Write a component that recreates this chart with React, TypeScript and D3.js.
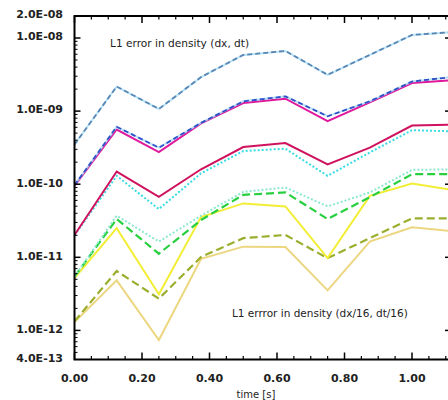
import React from 'react';
import * as d3 from 'd3';

const times = [0, 0.125, 0.25, 0.375, 0.5, 0.625, 0.75, 0.875, 1.0, 1.125];

const seriesA = [3.5e-10, 2.17e-9, 1.07e-9, 2.92e-9, 5.87e-9, 6.66e-9, 3.14e-9, 5.87e-9, 1.1e-8, 1.21e-8];
const seriesB = [9.7e-11, 6.1e-10, 3.16e-10, 6.91e-10, 1.36e-9, 1.59e-9, 8.5e-10, 1.36e-9, 2.54e-9, 2.95e-9];
const seriesC = [9.5e-11, 5.6e-10, 2.75e-10, 6.8e-10, 1.29e-9, 1.48e-9, 7.27e-10, 1.32e-9, 2.42e-9, 2.66e-9];
const seriesD = [2.02e-11, 1.49e-10, 6.72e-11, 1.6e-10, 3.22e-10, 3.65e-10, 1.87e-10, 3.16e-10, 6.35e-10, 6.51e-10];
const seriesE = [2.0e-11, 1.3e-10, 4.57e-11, 1.41e-10, 2.84e-10, 3.06e-10, 1.3e-10, 2.72e-10, 5.48e-10, 5.28e-10];
const seriesF = [5.43e-12, 3.71e-11, 1.64e-11, 3.71e-11, 7.86e-11, 9.02e-11, 4.97e-11, 7.71e-11, 1.57e-10, 1.6e-10];
const seriesG = [5.43e-12, 3.34e-11, 1.12e-11, 3.24e-11, 7.15e-11, 7.71e-11, 3.34e-11, 6.65e-11, 1.37e-10, 1.37e-10];
const seriesH = [5.2e-12, 2.5e-11, 3.12e-12, 3.56e-11, 5.46e-11, 4.97e-11, 9.75e-12, 6.93e-11, 1.02e-10, 8.28e-11];
const seriesI = [1.33e-12, 6.49e-12, 2.72e-12, 1.01e-11, 1.83e-11, 2.02e-11, 9.75e-12, 1.83e-11, 3.41e-11, 3.41e-11];
const seriesJ = [1.3e-12, 4.83e-12, 7.38e-13, 9.55e-12, 1.4e-11, 1.38e-11, 3.53e-12, 1.64e-11, 2.58e-11, 2.27e-11];

const xTickValues = [0, 0.2, 0.4, 0.6, 0.8, 1.0];
const xTickLabels = ['0.00', '0.20', '0.40', '0.60', '0.80', '1.00'];
const yTickValues = [2e-8, 1e-8, 1e-9, 1e-10, 1e-11, 1e-12, 4e-13];
const yTickLabels = ['2.0E-08', '1.0E-08', '1.0E-09', '1.0E-10', '1.0E-11', '1.0E-12', '4.0E-13'];

const titleTop = 'L1 error in density (dx, dt)';
const titleBottom = 'L1 errror in density (dx/16, dt/16)';
const xTitle = 'time [s]';

type Layer = { color: string; width: number; dash?: string; opacity?: number };
type Series = { values: number[]; layers: Layer[] };

const series: Series[] = [
  { values: seriesJ, layers: [{ color: '#ecd680', width: 2 }] },
  { values: seriesI, layers: [{ color: '#9cae2e', width: 2.2, dash: '8,4' }] },
  { values: seriesH, layers: [{ color: '#f2ee36', width: 2 }] },
  { values: seriesG, layers: [{ color: '#28d040', width: 2.2, dash: '8,4' }] },
  { values: seriesF, layers: [{ color: '#8ce8d0', width: 2, dash: '2,2' }] },
  { values: seriesE, layers: [{ color: '#38dce4', width: 2, dash: '2,2' }] },
  { values: seriesD, layers: [{ color: '#d0125e', width: 2 }] },
  { values: seriesC, layers: [{ color: '#e0189c', width: 2 }] },
  { values: seriesB, layers: [{ color: '#a8dcf4', width: 2, opacity: 0.8 }, { color: '#3050c8', width: 1.8, dash: '5,3' }] },
  { values: seriesA, layers: [{ color: '#a8dcf4', width: 2, opacity: 0.8 }, { color: '#5a86b4', width: 1.8, dash: '5,3' }] },
];

export default function App() {
  const W = 448, H = 400;
  const left = 74.5, right = 451, top = 16, bottom = 359.5;
  const x = d3.scaleLinear().domain([0, (right - left) / 337.5]).range([left, right]);
  const y = d3.scaleLog().domain([4e-13, 2e-8]).range([bottom, top]);

  const line = d3.line<number>()
    .x((_, i) => x(times[i]))
    .y((v) => y(v));

  const xMinor: number[] = d3.range(0, 1.12, 0.05).filter((t) => Math.abs(t / 0.2 - Math.round(t / 0.2)) > 1e-6);
  const yMinor: number[] = [];
  for (let e = -13; e <= -8; e++) {
    for (let m = 2; m <= 9; m++) {
      const v = m * Math.pow(10, e);
      if (v >= 4e-13 && v <= 2e-8) yMinor.push(v);
    }
  }
  const yMajor = [1e-8, 1e-9, 1e-10, 1e-11, 1e-12];

  const tickFont = { fontFamily: 'DejaVu Sans', fontWeight: 700, fontSize: 11, fill: '#222' } as const;

  return (
    <svg width={W} height={H} style={{ position: 'absolute', left: 0, top: 0, background: '#fff' }}>
      <defs>
        <clipPath id="plot">
          <rect x={left} y={top} width={right - left} height={bottom - top} />
        </clipPath>
      </defs>
      <rect x={0} y={0} width={W} height={H} fill="#fff" />
      <g clipPath="url(#plot)">
        {series.map((s, si) =>
          s.layers.map((l, li) => (
            <path
              key={`${si}-${li}`}
              d={line(s.values) || ''}
              fill="none"
              stroke={l.color}
              strokeWidth={l.width}
              strokeDasharray={l.dash}
              strokeOpacity={l.opacity ?? 1}
              strokeLinejoin="miter"
            />
          ))
        )}
      </g>
      <rect x={left} y={top} width={right - left} height={bottom - top} fill="none" stroke="#000" strokeWidth={2} />
      {xTickValues.map((t) => (
        <g key={`xt${t}`} stroke="#000" strokeWidth={1.5}>
          <line x1={x(t)} x2={x(t)} y1={bottom} y2={bottom - 7} />
          <line x1={x(t)} x2={x(t)} y1={top} y2={top + 7} />
        </g>
      ))}
      {xMinor.map((t) => (
        <g key={`xm${t}`} stroke="#000" strokeWidth={1.2}>
          <line x1={x(t)} x2={x(t)} y1={bottom} y2={bottom - 3.5} />
          <line x1={x(t)} x2={x(t)} y1={top} y2={top + 3.5} />
        </g>
      ))}
      {yMajor.map((v) => (
        <g key={`ym${v}`} stroke="#000" strokeWidth={1.5}>
          <line x1={left} x2={left + 6} y1={y(v)} y2={y(v)} />
          <line x1={right} x2={right - 6} y1={y(v)} y2={y(v)} />
        </g>
      ))}
      {yMinor.map((v) => (
        <g key={`yn${v}`} stroke="#000" strokeWidth={1}>
          <line x1={left} x2={left + 3} y1={y(v)} y2={y(v)} />
          <line x1={right} x2={right - 3} y1={y(v)} y2={y(v)} />
        </g>
      ))}
      {xTickValues.map((t, i) => (
        <text key={`xl${t}`} x={x(t)} y={382} textAnchor="middle" {...tickFont}>
          {xTickLabels[i]}
        </text>
      ))}
      {yTickValues.map((v, i) => (
        <text key={`yl${v}`} x={63} y={y(v) - 1.5} dy="0.35em" textAnchor="end" {...tickFont}>
          {yTickLabels[i]}
        </text>
      ))}
      <text x={256} y={397.5} textAnchor="middle" fontFamily="DejaVu Sans" fontSize={10} fill="#222">
        {xTitle}
      </text>
      <text x={110} y={47} fontFamily="DejaVu Sans" fontSize={10.6} fill="#222">
        {titleTop}
      </text>
      <text x={232} y={317} fontFamily="DejaVu Sans" fontSize={10.5} fill="#222">
        {titleBottom}
      </text>
    </svg>
  );
}
